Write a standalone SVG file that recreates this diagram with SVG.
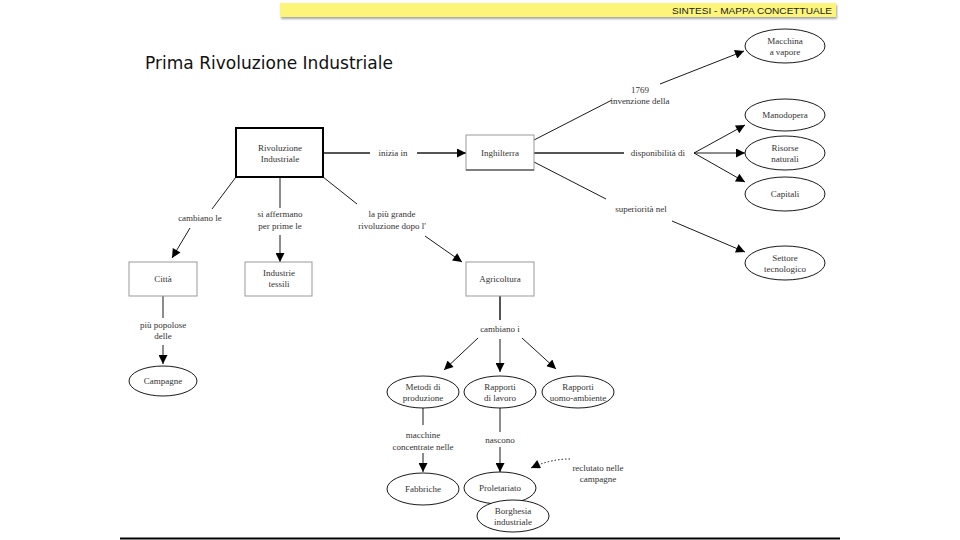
<svg xmlns="http://www.w3.org/2000/svg" width="960" height="540" viewBox="0 0 960 540">
<defs>
<marker id="ah" viewBox="0 0 10 10" refX="10" refY="5" markerWidth="12" markerHeight="9" markerUnits="userSpaceOnUse" orient="auto">
<path d="M0,0 L10,5 L0,10 z" fill="#000"/>
</marker>
<filter id="sh" x="-5%" y="-50%" width="110%" height="250%">
<feDropShadow dx="1" dy="2" stdDeviation="1.2" flood-color="#000" flood-opacity="0.35"/>
</filter>
</defs>
<style>
text{font-family:"Liberation Serif","Times New Roman",serif;font-size:9px;fill:#333;text-anchor:middle}
.title{font-family:"DejaVu Sans","Verdana",sans-serif;font-size:17px;text-anchor:start;fill:#111}
.hdr{font-family:"Liberation Sans",Arial,sans-serif;font-size:9px;text-anchor:end;fill:#222}
.box{fill:#fff;stroke:#999;stroke-width:1}
.ell{fill:#fff;stroke:#000;stroke-width:0.9}
.c{fill:none;stroke:#000;stroke-width:0.9}
.cg{fill:none;stroke:#555;stroke-width:2}
.ca{fill:none;stroke:#000;stroke-width:0.9;marker-end:url(#ah)}
.cga{fill:none;stroke:#555;stroke-width:2;marker-end:url(#ah)}
</style>
<rect width="960" height="540" fill="#fff"/>
<g id="header">
<rect x="280" y="3" width="556" height="14" fill="#fdf57a" filter="url(#sh)"/>
<text class="hdr" x="832" y="13.5" textLength="160" lengthAdjust="spacingAndGlyphs">SINTESI - MAPPA CONCETTUALE</text>
</g>
<text class="title" x="145" y="69" textLength="248" lengthAdjust="spacingAndGlyphs">Prima Rivoluzione Industriale</text>
<line x1="120" y1="538.5" x2="840" y2="538.5" stroke="#000" stroke-width="2"/>

<g id="connectors">
<path class="cg" d="M323,153 L370,153"/>
<path class="cga" d="M417,153 L466,153"/>
<text x="393" y="156">inizia in</text>
<path class="c" d="M236,177 L212,209"/>
<path class="ca" d="M190,228 L172,258"/>
<text x="200" y="221">cambiano le</text>
<path class="c" d="M280,177 L280,208"/>
<path class="ca" d="M280,235 L280,262"/>
<text x="280" y="217">si affermano</text>
<text x="280" y="229">per prime le</text>
<path class="c" d="M323,177 L357,204"/>
<path class="ca" d="M425,236 L462,262"/>
<text x="392" y="217">la più grande</text>
<text x="392" y="229">rivoluzione dopo l'</text>
<path class="c" d="M534,140 L612,100"/>
<path class="ca" d="M660,84 L744,51"/>
<text x="640" y="93">1769</text>
<text x="640" y="104">invenzione della</text>
<path class="cg" d="M534,153 L624,153"/>
<text x="658" y="156">disponibilità di</text>
<path class="ca" d="M694,153 L745,125"/>
<path class="ca" d="M694,153 L745,153"/>
<path class="ca" d="M694,153 L745,182"/>
<path class="c" d="M534,162 L606,199"/>
<path class="ca" d="M672,221 L745,252"/>
<text x="641" y="212">superiorità nel</text>
<path class="c" d="M163,296 L163,318" stroke="#888"/>
<path class="ca" d="M163,345 L163,364"/>
<text x="163" y="328">più popolose</text>
<text x="163" y="339">delle</text>
<path class="cg" d="M500,296 L500,320"/>
<text x="500" y="332">cambiano i</text>
<path class="ca" d="M478,338 L444,370"/>
<path class="ca" d="M500,339 L500,372"/>
<path class="ca" d="M522,338 L556,369"/>
<path class="c" d="M423,408 L423,425"/>
<path class="ca" d="M423,453 L423,472"/>
<text x="423" y="438">macchine</text>
<text x="423" y="450">concentrate nelle</text>
<path class="c" d="M500,408 L500,432"/>
<path class="ca" d="M500,447 L500,472"/>
<text x="500" y="443">nascono</text>
<path class="ca" d="M570,459 Q550,459 531,468" stroke-dasharray="1.5,2"/>
<text x="598" y="471">reclutato nelle</text>
<text x="598" y="482">campagne</text>
</g>

<g id="rivoluzione"><rect x="236" y="128" width="87" height="49" fill="#fff" stroke="#000" stroke-width="2"/><text x="280" y="151">Rivoluzione</text><text x="280" y="162">Industriale</text></g>
<g id="inghilterra"><rect class="box" x="466" y="135" width="68" height="35"/><line x1="466" y1="170" x2="534" y2="170" stroke="#333"/><text x="500" y="156">Inghilterra</text></g>
<g id="citta"><rect class="box" x="129" y="262" width="68" height="34"/><text x="163" y="282">Città</text></g>
<g id="industrie"><rect class="box" x="245" y="262" width="67" height="34"/><text x="279" y="276">Industrie</text><text x="279" y="287">tessili</text></g>
<g id="agricoltura"><rect class="box" x="466" y="262" width="68" height="34"/><text x="500" y="282">Agricoltura</text></g>
<g id="campagne"><ellipse class="ell" cx="163" cy="381" rx="34" ry="15"/><text x="163" y="384">Campagne</text></g>
<g id="metodi"><ellipse class="ell" cx="423" cy="392" rx="36" ry="16"/><text x="423" y="390">Metodi di</text><text x="423" y="401">produzione</text></g>
<g id="lavoro"><ellipse class="ell" cx="500" cy="392" rx="36" ry="16"/><text x="500" y="390">Rapporti</text><text x="500" y="401">di lavoro</text></g>
<g id="uomo"><ellipse class="ell" cx="578" cy="392" rx="36" ry="16"/><text x="578" y="390">Rapporti</text><text x="578" y="401">uomo-ambiente</text></g>
<g id="fabbriche"><ellipse class="ell" cx="423" cy="489" rx="36" ry="16"/><text x="423" y="492">Fabbriche</text></g>
<g id="proletariato"><ellipse class="ell" cx="500" cy="488" rx="36" ry="16"/><text x="500" y="491">Proletariato</text></g>
<g id="borghesia"><ellipse class="ell" cx="513" cy="516" rx="36" ry="16"/><text x="513" y="514">Borghesia</text><text x="513" y="525">industriale</text></g>
<g id="macchina"><ellipse class="ell" cx="785" cy="46" rx="40" ry="17"/><text x="785" y="44">Macchina</text><text x="785" y="55">a vapore</text></g>
<g id="manodopera"><ellipse class="ell" cx="785" cy="115" rx="40" ry="16"/><text x="785" y="118">Manodopera</text></g>
<g id="risorse"><ellipse class="ell" cx="785" cy="153" rx="40" ry="17"/><text x="785" y="151">Risorse</text><text x="785" y="162">naturali</text></g>
<g id="capitali"><ellipse class="ell" cx="785" cy="194" rx="40" ry="17"/><text x="785" y="197">Capitali</text></g>
<g id="settore"><ellipse class="ell" cx="785" cy="263" rx="40" ry="17"/><text x="785" y="261">Settore</text><text x="785" y="272">tecnologico</text></g>
</svg>
